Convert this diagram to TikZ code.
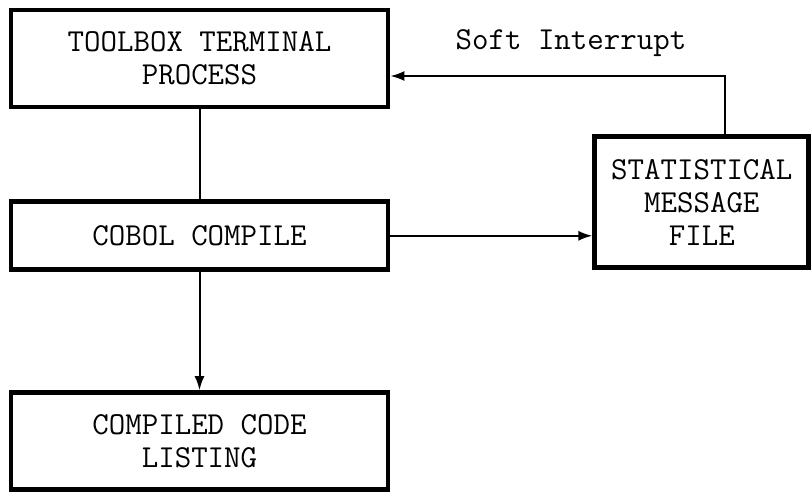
\documentclass[tikz,border=0pt]{standalone}
\usepackage{tikz}
\usetikzlibrary{arrows.meta,positioning}

\begin{document}
\begin{tikzpicture}[
  font=\ttfamily\fontsize{16}{16.5}\selectfont,
  box/.style={draw, line width=2.4pt, align=center, inner sep=0pt, minimum width=188.5pt},
  arrow/.style={-{Latex[length=7pt,width=5pt]}, line width=1pt},
  link/.style={line width=1pt}
]
\useasboundingbox (0,0) rectangle (405.5pt,-246.5pt);
\node[box, minimum height=48.5pt] (term) at (99.75pt,-29.25pt) {TOOLBOX TERMINAL\\PROCESS};
\node[box, minimum height=34pt, below=45pt of term] (cobol) {COBOL COMPILE};
\node[box, minimum height=48.5pt, below=59pt of cobol] (listing) {COMPILED CODE\\LISTING};
\node[box, minimum width=107pt, minimum height=65.5pt, right=101pt of cobol, yshift=16.75pt] (stat) {STATISTICAL\\MESSAGE\\FILE};
\draw[link] (term) -- (cobol);
\draw[arrow] (cobol) -- (listing);
\draw[arrow] (cobol.east) -- (cobol.east -| stat.west);
\draw[arrow] ([xshift=11.5pt]stat.north) |- ([yshift=-8.75pt]term.east)
  node[pos=0.73, above=6pt] (soft) {Soft Interrupt};
\end{tikzpicture}
\end{document}
